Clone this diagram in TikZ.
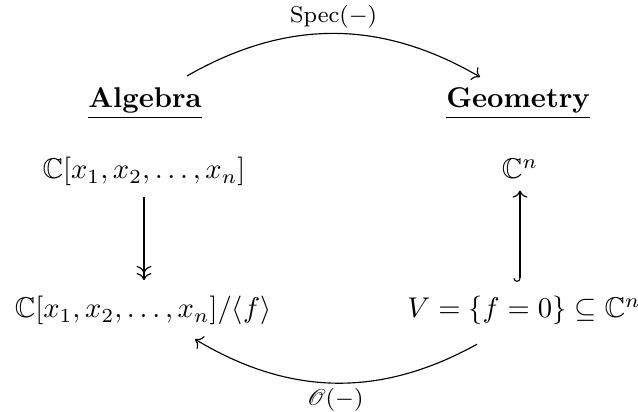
\documentclass[tikz,border=0pt]{standalone}
\usepackage{amssymb}
\usepackage{mathrsfs}
\usetikzlibrary{arrows.meta}
\begin{document}
\begin{tikzpicture}[x=0.35pt,y=-0.35pt,
  cell/.style={anchor=base, inner sep=3.33pt},
  lab/.style={font=\footnotesize, inner sep=1.8pt},
  arr/.style={line width=0.4pt, -{Computer Modern Rightarrow}},
  epi/.style={line width=0.4pt, -{Computer Modern Rightarrow[]Computer Modern Rightarrow[]}},
  mono/.style={line width=0.4pt, {Hooks[right]}-{Computer Modern Rightarrow}}]
\useasboundingbox (0,0) rectangle (638,412);
\node[cell] (alg) at (145,108) {\underline{\textbf{Algebra}}};
\node[cell] (geo) at (518,108) {\underline{\textbf{Geometry}}};
\node[cell] (poly) at (144,179) {$\mathbb{C}[x_1,x_2,\ldots,x_n]$};
\node[cell] (cn) at (520,179) {$\mathbb{C}^n$};
\node[cell] (quot) at (143,318) {$\mathbb{C}[x_1,x_2,\ldots,x_n]/\langle f\rangle$};
\node[cell] (var) at (524,318) {$V=\{f=0\}\subseteq\mathbb{C}^n$};
\draw[arr] ([shift={(42,-2)}]alg.north) to[bend left=30] node[lab, above] (spec) {$\mathrm{Spec}(-)$} ([shift={(-38,-1)}]geo.north);
\draw[epi, shorten >=2.2pt, shorten <=0.2pt] (poly.south) -- (poly.south |- quot.north);
\draw[mono, shorten <=1.6pt, shorten >=0.5pt] (cn.south |- var.north) -- (cn.south);
\draw[arr] ([shift={(-47,9)}]var.south) to[bend left=30] node[lab, below] (ofun) {$\mathscr{O}(-)$} ([shift={(52,4)}]quot.south);
\end{tikzpicture}
\end{document}
